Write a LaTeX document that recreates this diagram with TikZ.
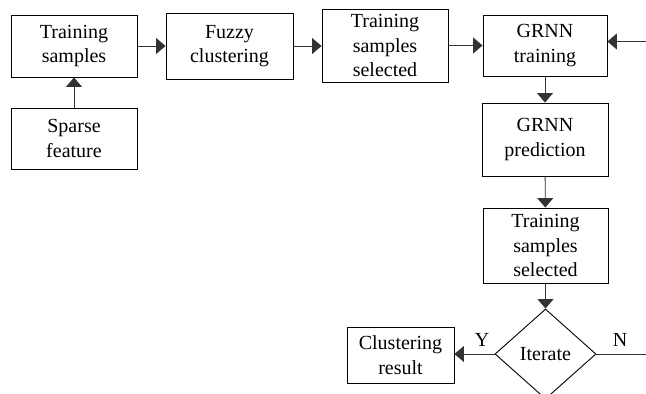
\documentclass[tikz,border=0pt]{standalone}
\usepackage{fontspec}
\setmainfont{Liberation Serif}
\usetikzlibrary{shapes.geometric,arrows.meta}
\begin{document}
\begin{tikzpicture}[x=1pt,y=-1pt,
  box/.style={draw=black,line width=0.9pt,align=center,inner sep=0pt,font=\fontsize{20}{24.5}\selectfont},
  lbl/.style={font=\fontsize{20}{24}\selectfont,inner sep=0pt},
  conn/.style={draw=black!80,line width=0.9pt,-{Triangle[length=9.5pt,width=16pt]}},
  line/.style={draw=black!80,line width=0.9pt}]
\useasboundingbox (0,0) rectangle (646,394);
\clip (0,0) rectangle (646,394);
\node[box,minimum width=126pt,minimum height=62pt] (ts) at (74,46) {Training\\samples};
\node[box,minimum width=126pt,minimum height=61pt] (sf) at (74,138.5) {Sparse\\feature};
\node[box,minimum width=127pt,minimum height=66pt] (fc) at (229.5,46) {Fuzzy\\clustering};
\node[box,minimum width=126pt,minimum height=73pt] (tss1) at (385,45.5) {Training\\samples\\selected};
\node[box,minimum width=124pt,minimum height=61pt] (gt) at (545,45.5) {GRNN\\training};
\node[box,minimum width=126pt,minimum height=73pt] (gp) at (545,139.5) {GRNN\\prediction};
\node[box,minimum width=125pt,minimum height=75pt] (tss2) at (545.5,245.5) {Training\\samples\\selected};
\node[box,diamond,aspect=1.12,minimum width=101pt,minimum height=90pt] (it) at (545.5,354) {Iterate};
\node[box,minimum width=107pt,minimum height=56pt] (cr) at (400.5,355) {Clustering\\result};
\coordinate (nend) at (646,354);
\coordinate (fbin) at (646,41.5);
\path[conn] (sf) -- (ts);
\path[conn] (ts) -- (fc);
\path[conn] (fc) -- (tss1.west |- fc);
\path[conn] (tss1.east |- gt) -- (gt);
\path[conn] (fbin) -- (gt.east |- fbin);
\path[conn] (gt) -- (gp);
\path[conn] (gp) -- (tss2);
\path[conn] (tss2) -- (it);
\path[conn] (it.west) -- (cr.east |- it.west);
\path[line] (it.east) -- (nend);
\node[lbl] (y) at (482,340) {Y};
\node[lbl] (n) at (620,340) {N};
\end{tikzpicture}
\end{document}
